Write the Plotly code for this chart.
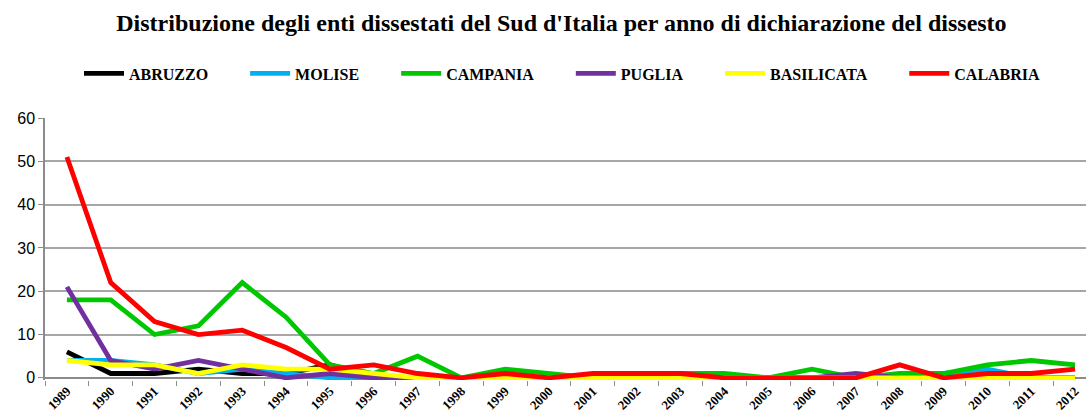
import plotly.graph_objects as go

anni = [str(a) for a in range(1989, 2013)]

abruzzo = [6, 1, 1, 2, 1, 1, 3, 0, 0, 0, 0, 0, 0, 0, 0, 0, 0, 0, 0, 0, 0, 0, 0, 0]
molise = [4, 4, 3, 1, 2, 1, 0, 0, 0, 0, 0, 0, 0, 0, 0, 0, 0, 0, 0, 0, 1, 2, 0, 0]
campania = [18, 18, 10, 12, 22, 14, 3, 1, 5, 0, 2, 1, 0, 1, 1, 1, 0, 2, 0, 1, 1, 3, 4, 3]
puglia = [21, 4, 2, 4, 2, 0, 1, 0, 0, 0, 0, 0, 0, 0, 0, 0, 0, 0, 1, 0, 0, 0, 0, 0]
basilicata = [4, 3, 3, 1, 3, 2, 2, 1, 0, 0, 0, 0, 0, 0, 0, 0, 0, 0, 0, 0, 0, 0, 0, 0]
calabria = [51, 22, 13, 10, 11, 7, 2, 3, 1, 0, 1, 0, 1, 1, 1, 0, 0, 0, 0, 3, 0, 1, 1, 2]

serie = [
    ("ABRUZZO", abruzzo, "#000000"),
    ("MOLISE", molise, "#00b0f0"),
    ("CAMPANIA", campania, "#00c800"),
    ("PUGLIA", puglia, "#7030a0"),
    ("BASILICATA", basilicata, "#ffff00"),
    ("CALABRIA", calabria, "#ff0000"),
]

fig = go.Figure()
for nome, valori, colore in serie:
    # spazi finali per allargare le voci della legenda come nell'originale
    fig.add_trace(go.Scatter(x=anni, y=valori, name=f"<b>{nome}</b>" + "&nbsp;" * 8,
                             mode="lines", line=dict(color=colore, width=4.8)))

fig.update_layout(
    width=1086, height=418,
    margin=dict(l=45, r=0, t=118, b=38),
    paper_bgcolor="white", plot_bgcolor="white",
    title=dict(text="<b>Distribuzione degli enti dissestati del Sud d'Italia per anno di dichiarazione del dissesto</b>",
               x=0.517, xanchor="center", y=0.947, yanchor="middle",
               font=dict(family="Liberation Serif", size=24, color="black")),
    legend=dict(orientation="h", x=0.512, xanchor="center", y=1.17, yanchor="middle",
                font=dict(family="Liberation Serif", size=16, color="black"),
                itemwidth=40, tracegroupgap=0),
    showlegend=True,
)
fig.update_xaxes(type="category", range=[-0.5, 23.25], showgrid=False,
                 showline=False, ticks="outside", tickson="boundaries",
                 ticklen=5, tickcolor="#8c8c8c", tickangle=-45,
                 tickprefix="<b>", ticksuffix="</b>",
                 tickfont=dict(family="Liberation Serif", size=13, color="black"),
                 automargin=False)
fig.update_yaxes(range=[-0.5, 60], dtick=10, showgrid=True, gridcolor="#a6a6a6",
                 gridwidth=1.5, zeroline=True, zerolinecolor="#8c8c8c", zerolinewidth=1.5,
                 showline=True, linecolor="#8c8c8c", linewidth=1.5,
                 ticks="outside", ticklen=5, tickcolor="#8c8c8c",
                 tickfont=dict(family="Liberation Sans", size=16, color="black"),
                 automargin=False)

fig.write_html("out.html", config={"displayModeBar": False},
               post_script="document.body.style.margin='0';")
